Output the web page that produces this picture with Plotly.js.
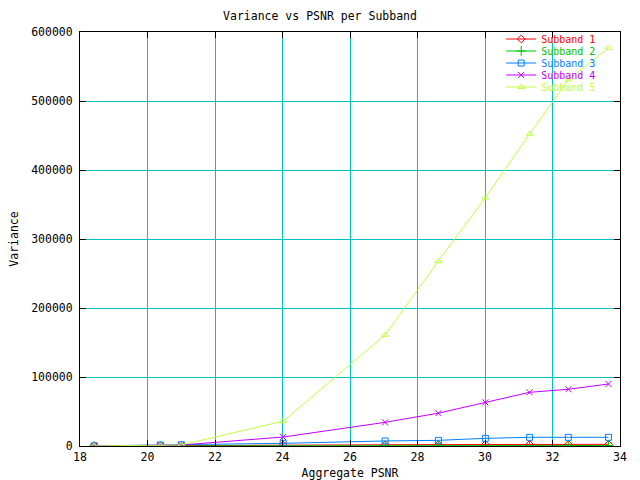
<!DOCTYPE html>
<html>
<head>
<meta charset="utf-8">
<script src="https://cdn.plot.ly/plotly-3.0.1.min.js"></script>
<style>html,body{margin:0;padding:0;background:#fff}#chart{width:640px;height:480px}</style>
</head>
<body>
<div id="chart"></div>
<script>
const psnr = [18.42, 20.38, 21.0, 24.02, 27.04, 28.62, 30.01, 31.32, 32.47, 33.66];
const subband1 = [50, 200, 400, 1400, 1800, 2000, 2100, 2200, 2300, 2400];
const subband2 = [30, 100, 200, 400, 500, 550, 600, 650, 700, 700];
const subband3 = [200, 1500, 1800, 3900, 7300, 8200, 11100, 12600, 12600, 12600];
const subband4 = [100, 500, 1500, 13000, 34300, 47600, 63300, 77800, 82200, 89900];
const subband5 = [100, 400, 1500, 36000, 161000, 268000, 360000, 452000, 531000, 577000];
const names = ["Subband 1", "Subband 2", "Subband 3", "Subband 4", "Subband 5"];
const colors = ["#ff0000", "#00c000", "#0080ff", "#c000ff", "#c0ff40"];
const symbols = ["diamond-open", "cross-thin-open", "square-open", "x-thin-open", "triangle-up-open"];
const sizes = [6, 7, 6, 6, 6];
const series = [subband1, subband2, subband3, subband4, subband5];

const FONT = "DejaVu Sans Mono, Liberation Mono, monospace";
const legendKeys = ["legend", "legend2", "legend3", "legend4", "legend5"];

const traces = series.map((vals, i) => ({
  type: "scatter",
  mode: "lines+markers",
  x: psnr,
  y: vals,
  name: names[i],
  legend: legendKeys[i],
  line: {color: colors[i], width: 1},
  marker: {symbol: symbols[i], size: sizes[i], color: colors[i], line: {color: colors[i], width: 1}}
}));

const layout = {
  width: 640, height: 480,
  margin: {l: 80, r: 20, t: 32, b: 34},
  paper_bgcolor: "#ffffff",
  plot_bgcolor: "#ffffff",
  font: {family: FONT, size: 11.5, color: "#000"},
  title: {text: "Variance vs PSNR per Subband", x: 0.5, xanchor: "center", y: 0.967, yanchor: "middle", font: {family: FONT, size: 11.5, color: "#000"}},
  xaxis: {
    range: [18, 34], dtick: 2, tick0: 18,
    showgrid: true, gridcolor: "#00c0c0", gridwidth: 1,
    zeroline: false,
    showline: true, linecolor: "#000", linewidth: 1, mirror: "ticks",
    ticks: "inside", ticklen: 6, tickcolor: "#000", tickwidth: 1,
    tickfont: {family: FONT, size: 11.5, color: "#000"},
    title: {text: "Aggregate PSNR", font: {family: FONT, size: 11.5, color: "#000"}, standoff: 6}
  },
  yaxis: {
    range: [0, 600000], dtick: 100000, tick0: 0,
    showgrid: true, gridcolor: "#00c0c0", gridwidth: 1,
    zeroline: false,
    showline: true, linecolor: "#000", linewidth: 1, mirror: "ticks",
    ticks: "inside", ticklen: 6, tickcolor: "#000", tickwidth: 1,
    tickformat: "d", ticklabelstandoff: 4,
    tickfont: {family: FONT, size: 11.5, color: "#000"},
    title: {text: "Variance", font: {family: FONT, size: 11.5, color: "#000"}, standoff: 10}
  },
  showlegend: true
};

legendKeys.forEach((k, i) => {
  layout[k] = {
    x: 0.78, xanchor: "left",
    y: 0.98309 - i * 0.028986, yanchor: "middle",
    bgcolor: "rgba(0,0,0,0)", borderwidth: 0,
    font: {family: FONT, size: 10, color: colors[i]},
    tracegroupgap: 0, itemwidth: 30
  };
});

Plotly.newPlot("chart", traces, layout, {staticPlot: true, displayModeBar: false});
</script>
</body>
</html>
